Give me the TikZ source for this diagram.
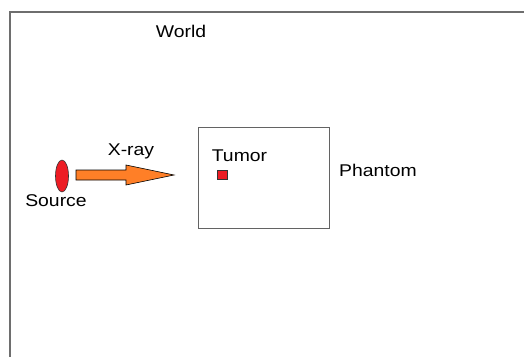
\documentclass[tikz,border=0pt]{standalone}
\usepackage{fontspec}
\setmainfont{Liberation Sans}[FakeStretch=1.14]
\definecolor{myred}{HTML}{ED1C24}
\definecolor{myorange}{HTML}{FF7F27}
\definecolor{framegray}{HTML}{6E6E6E}
\begin{document}
\begin{tikzpicture}[x=1pt,y=-1pt,
  lbl/.style={inner sep=0pt,anchor=base,font=\fontsize{17}{20}\selectfont},
  framebox/.style={draw=framegray,line width=1.3pt},
  phbox/.style={draw=framegray!90!black,line width=1pt}]
\useasboundingbox (0,0) rectangle (524,356);
% world frame
\draw[framebox] (10,357) -- (10,12) -- (525,12);
\node[lbl] (world) at (181,37) {World};
% source
\draw[fill=myred,draw=black!80,line width=0.6pt] (62,176) ellipse [x radius=6.5,y radius=16];
\coordinate (src) at (62,176);
\node[lbl] (source) at (56,206) {Source};
% arrow
\draw[fill=myorange,draw=black,line width=0.6pt]
  (76,170) -- (126,170) -- (126,165) -- (174,175) -- (126,185) -- (126,180) -- (76,180) -- cycle;
\node[lbl] (xray) at (131,155) {X-ray};
% phantom
\node[phbox,minimum width=131pt,minimum height=101pt,inner sep=0pt] (phantom) at (264,177.5) {};
\node[lbl] (phlabel) at (378,176) {Phantom};
\node[lbl] (tumorlabel) at (239.5,161.5) {Tumor};
\node[draw=black!80,fill=myred,line width=0.5pt,minimum width=10pt,minimum height=9pt,inner sep=0pt] (tumor) at (222.5,175) {};
\end{tikzpicture}
\end{document}
